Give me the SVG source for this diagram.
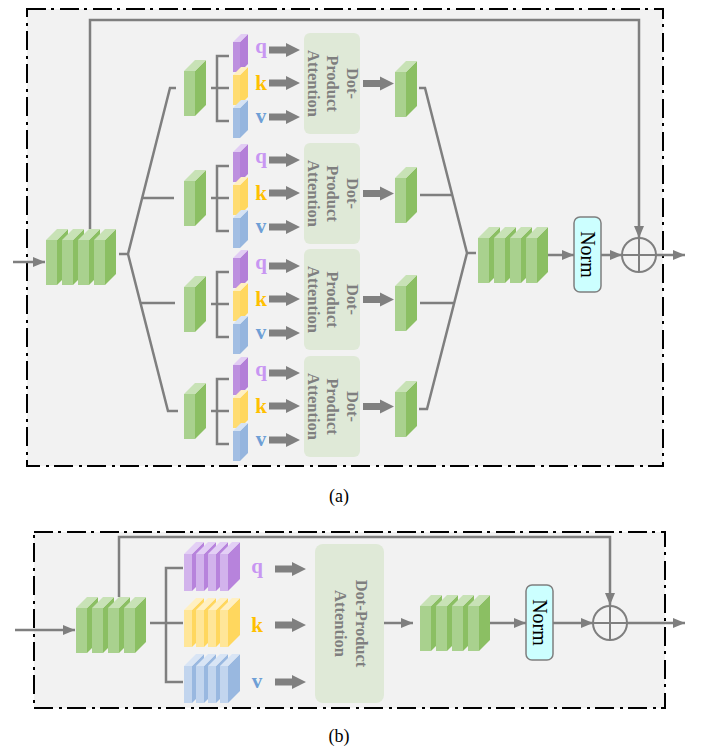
<svg xmlns="http://www.w3.org/2000/svg" width="701" height="750" viewBox="0 0 701 750">
  <style>
    .panel { fill: #f2f2f2; stroke: #000; stroke-width: 2; stroke-dasharray: 19 5 3 6; }
    .wire { fill: none; stroke: #7f7f7f; stroke-width: 2.5; }
    .arrow { fill: none; stroke: #7f7f7f; stroke-width: 2.5; marker-end: url(#head); }
    .fat { fill: #808080; }
    .att { fill: #dfe9d7; }
    .att-t { font-family: "Liberation Serif", serif; font-weight: bold; font-size: 16.5px; fill: #7f7f7f; text-anchor: middle; }
    .norm { fill: #ccffff; stroke: #7f7f7f; stroke-width: 1.5; }
    .norm-t { font-family: "Liberation Serif", serif; font-size: 20px; fill: #000; text-anchor: middle; }
    .lbl { font-family: "Liberation Serif", serif; font-weight: bold; font-size: 21px; text-anchor: middle; }
    .q { fill: #c896f2; }
    .k { fill: #ffc000; }
    .v { fill: #6e9fd6; }
    .cap { font-family: "Liberation Serif", serif; font-size: 18px; fill: #000; text-anchor: middle; }
    .sum { fill: none; stroke: #7f7f7f; stroke-width: 2; }
  </style>
  <defs>
    <marker id="head" viewBox="0 0 12 10" refX="12" refY="5" markerWidth="12" markerHeight="10" markerUnits="userSpaceOnUse" orient="auto">
      <path d="M0,0 L12,5 L0,10 Z" fill="#7f7f7f"/>
    </marker>
    <!-- green feature slice: front face, side face, top face -->
    <g id="g-slice">
      <rect x="0" y="0" width="11" height="45" fill="#a9d18e"/>
      <path d="M11,0 L22,-11 L22,34 L11,45 Z" fill="#8bbf63"/>
      <path d="M0,0 L11,-11 L22,-11 L11,0 Z" fill="#c8e2b6"/>
    </g>
    <!-- thin q/k/v slices of the multi-head branch -->
    <g id="q-slice">
      <rect x="0" y="0" width="7" height="30" fill="#bd90df"/>
      <path d="M7,0 L15,-8 L15,22 L7,30 Z" fill="#b37fd8"/>
      <path d="M0,0 L8,-8 L15,-8 L7,0 Z" fill="#e2cdf4"/>
    </g>
    <g id="k-slice">
      <rect x="0" y="0" width="7" height="30" fill="#ffdc72"/>
      <path d="M7,0 L15,-8 L15,22 L7,30 Z" fill="#ffd75e"/>
      <path d="M0,0 L8,-8 L15,-8 L7,0 Z" fill="#fff0c2"/>
    </g>
    <g id="v-slice">
      <rect x="0" y="0" width="7" height="30" fill="#a2bee3"/>
      <path d="M7,0 L15,-8 L15,22 L7,30 Z" fill="#95b5de"/>
      <path d="M0,0 L8,-8 L15,-8 L7,0 Z" fill="#d6e3f4"/>
    </g>
    <!-- wider q/k/v slabs of the single-head block -->
    <g id="q-slab">
      <rect x="0" y="0" width="8" height="37" fill="#d2b3ec"/>
      <path d="M8,0 L20,-12 L20,25 L8,37 Z" fill="#b783dc"/>
      <path d="M0,0 L12,-12 L20,-12 L8,0 Z" fill="#e3cff5"/>
    </g>
    <g id="k-slab">
      <rect x="0" y="0" width="8" height="37" fill="#ffe699"/>
      <path d="M8,0 L20,-12 L20,25 L8,37 Z" fill="#ffd75e"/>
      <path d="M0,0 L12,-12 L20,-12 L8,0 Z" fill="#fff0c2"/>
    </g>
    <g id="v-slab">
      <rect x="0" y="0" width="8" height="37" fill="#c2d5ee"/>
      <path d="M8,0 L20,-12 L20,25 L8,37 Z" fill="#99b8e0"/>
      <path d="M0,0 L12,-12 L20,-12 L8,0 Z" fill="#d9e5f5"/>
    </g>
    <path id="fat-arrow" class="fat" d="M0,-3.5 H17 V-7 L31,0 L17,7 V3.5 H0 Z"/>
  </defs>

  <!-- ===================== (a) multi-head ===================== -->
  <rect class="panel" x="27" y="9" width="636" height="457"/>

  <g id="connectors-a">
    <path class="arrow" d="M13,262 H45"/>
    <path class="arrow" d="M90,229 V20 H639 V238"/>
    <!-- split fan -->
    <path class="wire" d="M119,254 H128 M176,88 H170 L128,254 L168,411 H178 M142,198 H174 M141,303 H175"/>
    <!-- q/k/v brackets -->
    <path class="wire" d="M229,56 H217 V121 H229 M211,88 H229"/>
    <path class="wire" d="M229,166 H217 V231 H229 M211,198 H229"/>
    <path class="wire" d="M229,272 H217 V337 H229 M211,304 H229"/>
    <path class="wire" d="M229,379 H217 V444 H229 M211,411 H229"/>
    <!-- merge fan -->
    <path class="wire" d="M419,88 H425 L467,253 L427,409 H419 M420,195 H452 M420,303 H454 M467,253 H476"/>
    <path class="arrow" d="M547,255 H574"/>
    <path class="arrow" d="M601,255 H622"/>
    <path class="arrow" d="M656,255 H685"/>
    <!-- heavy arrows into and out of attention -->
    <use href="#fat-arrow" x="269" y="50"/>
    <use href="#fat-arrow" x="269" y="83"/>
    <use href="#fat-arrow" x="269" y="117"/>
    <use href="#fat-arrow" x="363" y="83.5"/>
    <use href="#fat-arrow" x="269" y="160"/>
    <use href="#fat-arrow" x="269" y="193"/>
    <use href="#fat-arrow" x="269" y="227"/>
    <use href="#fat-arrow" x="363" y="193.5"/>
    <use href="#fat-arrow" x="269" y="266"/>
    <use href="#fat-arrow" x="269" y="299"/>
    <use href="#fat-arrow" x="269" y="333"/>
    <use href="#fat-arrow" x="363" y="299.5"/>
    <use href="#fat-arrow" x="269" y="373"/>
    <use href="#fat-arrow" x="269" y="406"/>
    <use href="#fat-arrow" x="269" y="440"/>
    <use href="#fat-arrow" x="363" y="406.5"/>
  </g>

  <g id="input-a">
    <use href="#g-slice" x="46" y="240"/>
    <use href="#g-slice" x="62" y="240"/>
    <use href="#g-slice" x="78" y="240"/>
    <use href="#g-slice" x="94" y="240"/>
  </g>

  <g id="head-1">
    <use href="#g-slice" x="184" y="71"/>
    <use href="#q-slice" x="233" y="42"/>
    <use href="#k-slice" x="233" y="75"/>
    <use href="#v-slice" x="233" y="108"/>
    <text class="lbl q" x="261" y="53">q</text>
    <text class="lbl k" x="261" y="90">k</text>
    <text class="lbl v" x="261" y="123">v</text>
    <rect class="att" x="304" y="33" width="56" height="101" rx="6"/>
    <text class="att-t" transform="translate(332,83.5) rotate(90)"><tspan x="0" y="-14.5">Dot-</tspan><tspan x="0" y="5">Product</tspan><tspan x="0" y="24.5">Attention</tspan></text>
    <use href="#g-slice" x="395" y="72"/>
  </g>

  <g id="head-2">
    <use href="#g-slice" x="184" y="181"/>
    <use href="#q-slice" x="233" y="152"/>
    <use href="#k-slice" x="233" y="185"/>
    <use href="#v-slice" x="233" y="218"/>
    <text class="lbl q" x="261" y="163">q</text>
    <text class="lbl k" x="261" y="200">k</text>
    <text class="lbl v" x="261" y="233">v</text>
    <rect class="att" x="304" y="143" width="56" height="101" rx="6"/>
    <text class="att-t" transform="translate(332,193.5) rotate(90)"><tspan x="0" y="-14.5">Dot-</tspan><tspan x="0" y="5">Product</tspan><tspan x="0" y="24.5">Attention</tspan></text>
    <use href="#g-slice" x="395" y="178"/>
  </g>

  <g id="head-3">
    <use href="#g-slice" x="184" y="287"/>
    <use href="#q-slice" x="233" y="258"/>
    <use href="#k-slice" x="233" y="291"/>
    <use href="#v-slice" x="233" y="324"/>
    <text class="lbl q" x="261" y="269">q</text>
    <text class="lbl k" x="261" y="306">k</text>
    <text class="lbl v" x="261" y="339">v</text>
    <rect class="att" x="304" y="249" width="56" height="101" rx="6"/>
    <text class="att-t" transform="translate(332,299.5) rotate(90)"><tspan x="0" y="-14.5">Dot-</tspan><tspan x="0" y="5">Product</tspan><tspan x="0" y="24.5">Attention</tspan></text>
    <use href="#g-slice" x="395" y="286"/>
  </g>

  <g id="head-4">
    <use href="#g-slice" x="184" y="394"/>
    <use href="#q-slice" x="233" y="365"/>
    <use href="#k-slice" x="233" y="398"/>
    <use href="#v-slice" x="233" y="431"/>
    <text class="lbl q" x="261" y="376">q</text>
    <text class="lbl k" x="261" y="413">k</text>
    <text class="lbl v" x="261" y="446">v</text>
    <rect class="att" x="304" y="356" width="56" height="101" rx="6"/>
    <text class="att-t" transform="translate(332,406.5) rotate(90)"><tspan x="0" y="-14.5">Dot-</tspan><tspan x="0" y="5">Product</tspan><tspan x="0" y="24.5">Attention</tspan></text>
    <use href="#g-slice" x="395" y="392"/>
  </g>

  <g id="concat-a">
    <use href="#g-slice" x="478" y="238"/>
    <use href="#g-slice" x="494" y="238"/>
    <use href="#g-slice" x="510" y="238"/>
    <use href="#g-slice" x="526" y="238"/>
  </g>

  <g id="norm-a">
    <rect class="norm" x="574" y="217" width="27" height="75" rx="6"/>
    <text class="norm-t" transform="translate(587.5,254.5) rotate(90)" y="6.5">Norm</text>
  </g>

  <g id="add-a">
    <circle class="sum" cx="639" cy="255" r="17"/>
    <path class="sum" d="M622,255 H656 M639,238 V272"/>
  </g>

  <text class="cap" x="339" y="502">(a)</text>

  <!-- ===================== (b) single head ===================== -->
  <rect class="panel" x="34" y="532" width="631" height="176"/>

  <g id="connectors-b">
    <path class="arrow" d="M15,630 H75"/>
    <path class="arrow" d="M119,597 V537 H610 V605"/>
    <path class="wire" d="M150,623 H183 M183,568 H166 V682 H183"/>
    <use href="#fat-arrow" x="275" y="569"/>
    <use href="#fat-arrow" x="275" y="625"/>
    <use href="#fat-arrow" x="275" y="682"/>
    <path class="arrow" d="M384,623 H413"/>
    <path class="arrow" d="M490,623 H526"/>
    <path class="arrow" d="M553,623 H593"/>
    <path class="arrow" d="M627,623 H685"/>
  </g>

  <g id="input-b">
    <use href="#g-slice" x="76" y="608"/>
    <use href="#g-slice" x="92" y="608"/>
    <use href="#g-slice" x="108" y="608"/>
    <use href="#g-slice" x="124" y="608"/>
  </g>

  <g id="query-b">
    <use href="#q-slab" x="184" y="554"/>
    <use href="#q-slab" x="196" y="554"/>
    <use href="#q-slab" x="208" y="554"/>
    <use href="#q-slab" x="220" y="554"/>
    <text class="lbl q" x="257" y="573">q</text>
  </g>

  <g id="key-b">
    <use href="#k-slab" x="184" y="610"/>
    <use href="#k-slab" x="196" y="610"/>
    <use href="#k-slab" x="208" y="610"/>
    <use href="#k-slab" x="220" y="610"/>
    <text class="lbl k" x="257" y="632">k</text>
  </g>

  <g id="value-b">
    <use href="#v-slab" x="184" y="666"/>
    <use href="#v-slab" x="196" y="666"/>
    <use href="#v-slab" x="208" y="666"/>
    <use href="#v-slab" x="220" y="666"/>
    <text class="lbl v" x="257" y="688">v</text>
  </g>

  <g id="attention-b">
    <rect class="att" x="315" y="544" width="69" height="159" rx="8"/>
    <text class="att-t" transform="translate(350,623.5) rotate(90)"><tspan x="0" y="-5.5">Dot-Product</tspan><tspan x="0" y="15">Attention</tspan></text>
  </g>

  <g id="output-b">
    <use href="#g-slice" x="420" y="606"/>
    <use href="#g-slice" x="436" y="606"/>
    <use href="#g-slice" x="452" y="606"/>
    <use href="#g-slice" x="468" y="606"/>
  </g>

  <g id="norm-b">
    <rect class="norm" x="526" y="585" width="27" height="75" rx="6"/>
    <text class="norm-t" transform="translate(539.5,622.5) rotate(90)" y="6.5">Norm</text>
  </g>

  <g id="add-b">
    <circle class="sum" cx="610" cy="623" r="17"/>
    <path class="sum" d="M593,623 H627 M610,606 V640"/>
  </g>

  <text class="cap" x="339" y="742">(b)</text>
</svg>
